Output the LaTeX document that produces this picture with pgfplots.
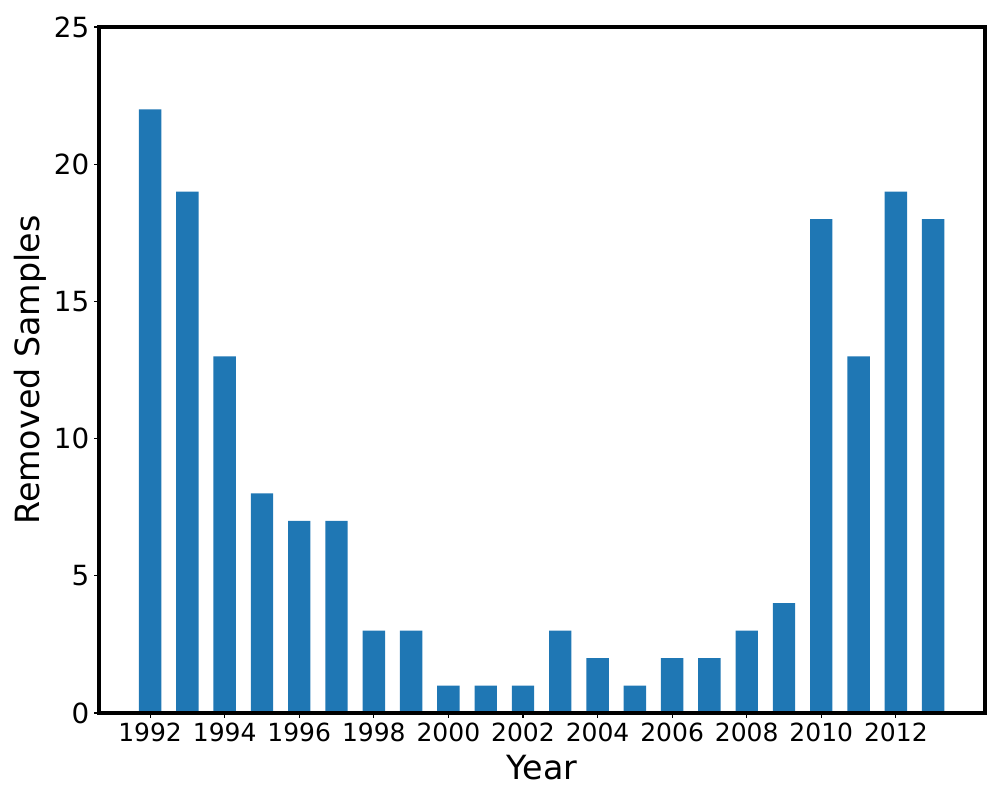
\documentclass[border=0pt]{standalone}
\usepackage{pgfplots}
\pgfplotsset{compat=1.18}
\usepackage{fontspec}
\setmainfont{DejaVu Sans}
\definecolor{mplblue}{HTML}{1F77B4}
\begin{document}
\begin{tikzpicture}
\path[use as bounding box] (-71.28pt,-62.64pt) rectangle (648.72pt,513.36pt);
\begin{axis}[
  at={(0,0)}, anchor=south west,
  scale only axis, width=637.92pt, height=493.92pt,
  xmin=1990.63, xmax=2014.39, ymin=0, ymax=25,
  xtick={1992,1994,...,2012}, ytick={0,5,...,25},
  tick align=outside, major tick length=3.5pt,
  tick style={black, line width=0.8pt},
  xtick pos=bottom, ytick pos=left,
  axis line style={line width=2.2pt},
  xticklabel style={font=\fontsize{18}{18}\selectfont},
  yticklabel style={font=\fontsize{20}{20}\selectfont},
  /pgf/number format/assume math mode=true,
  /pgf/number format/1000 sep={},
  xlabel={Year}, ylabel={Removed Samples},
  label style={font=\fontsize{24}{24}\selectfont},
  xlabel style={at={(axis description cs:0.5,0)}, anchor=center, yshift=-39.6pt},
  ylabel style={at={(axis description cs:0,0.5)}, anchor=center, rotate=0, yshift=49.7pt},
  ybar, bar width=0.6, bar shift=0pt,
  axis on top,
]
\addplot[fill=mplblue, draw=none] coordinates {
(1992,22) (1993,19) (1994,13) (1995,8) (1996,7) (1997,7) (1998,3) (1999,3)
(2000,1) (2001,1) (2002,1) (2003,3) (2004,2) (2005,1) (2006,2) (2007,2)
(2008,3) (2009,4) (2010,18) (2011,13) (2012,19) (2013,18)
};
\end{axis}
\end{tikzpicture}
\end{document}
